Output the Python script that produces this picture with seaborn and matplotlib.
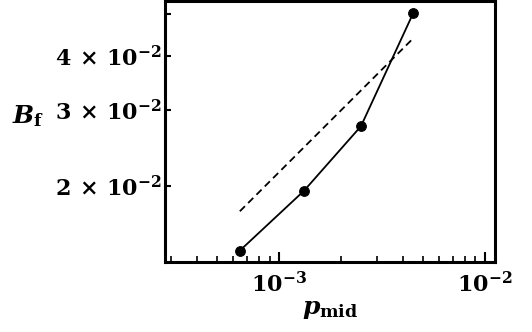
import matplotlib
matplotlib.use("Agg")
import matplotlib.pyplot as plt
import seaborn as sns
import pandas as pd
from matplotlib.ticker import FixedLocator, NullLocator, LogLocator, NullFormatter

# measured points
p_mid = [6.45e-4, 1.32e-3, 2.50e-3, 4.49e-3]
B_f = [1.42e-2, 1.95e-2, 2.75e-2, 5.02e-2]

# power-law guide line
fit_p = [6.45e-4, 4.49e-3]
fit_B = [1.75e-2, 4.39e-2]

y_ticks = [0.02, 0.03, 0.04, 0.05]
y_tick_labels = [r"$2\,\times\,10^{-2}$", r"$3\,\times\,10^{-2}$",
                 r"$4\,\times\,10^{-2}$", ""]
x_ticks = [1e-3, 1e-2]
x_tick_labels = [r"$10^{-3}$", r"$10^{-2}$"]

sns.set_style("ticks")
plt.rcParams["mathtext.fontset"] = "custom"
plt.rcParams["mathtext.rm"] = "DejaVu Serif:bold"
plt.rcParams["mathtext.bf"] = "DejaVu Serif:bold"
plt.rcParams["mathtext.it"] = "DejaVu Serif:italic:bold"
plt.rcParams["font.family"] = ["DejaVu Serif"]
plt.rcParams["text.color"] = "black"
plt.rcParams["axes.labelcolor"] = "black"
plt.rcParams["xtick.color"] = "black"
plt.rcParams["ytick.color"] = "black"

data = pd.DataFrame({"p": p_mid, "B": B_f})
fit = pd.DataFrame({"p": fit_p, "B": fit_B})

fig = plt.figure(figsize=(5.32, 3.32), dpi=100)
ax = fig.add_axes([0.310, 0.211, 0.620, 0.786])

sns.lineplot(data=data, x="p", y="B", ax=ax, color="black", linewidth=1.3,
             marker="o", markersize=7, markeredgecolor="black", sort=False)
sns.lineplot(data=fit, x="p", y="B", ax=ax, color="black", linewidth=1.3,
             linestyle=(0, (4, 2.5)), sort=False)

ax.set_xscale("log")
ax.set_yscale("log")
ax.set_xlim(2.79e-4, 1.117e-2)
ax.set_ylim(1.337e-2, 5.35e-2)

ax.xaxis.set_major_locator(FixedLocator(x_ticks))
ax.set_xticklabels(x_tick_labels)
ax.xaxis.set_minor_locator(LogLocator(base=10, subs=range(2, 10)))
ax.xaxis.set_minor_formatter(NullFormatter())

ax.yaxis.set_major_locator(FixedLocator(y_ticks))
ax.set_yticklabels(y_tick_labels)
ax.yaxis.set_minor_locator(NullLocator())

ax.tick_params(axis="both", which="major", direction="in", length=7, width=1.5,
               labelsize=16)
ax.tick_params(axis="x", which="major", pad=7)
ax.tick_params(axis="x", which="minor", direction="in", length=4, width=1.2)
ax.tick_params(axis="y", which="major", length=4, pad=2)

for s in ax.spines.values():
    s.set_linewidth(2.2)
    s.set_color("black")

ax.set_xlabel(r"$p_{\mathrm{mid}}$", fontsize=18, labelpad=1)
ax.set_ylabel(r"$B_{\mathrm{f}}$", fontsize=18, rotation=0,
              ha="center", va="center")
ax.yaxis.set_label_coords(-0.415, 0.56)

fig.savefig("out.png", dpi=100)
